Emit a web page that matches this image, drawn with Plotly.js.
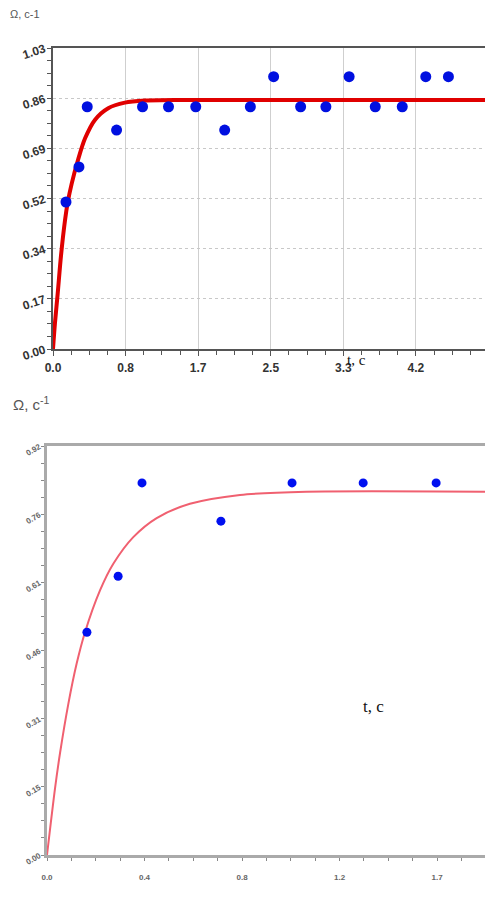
<!DOCTYPE html>
<html>
<head>
<meta charset="utf-8">
<script src="https://cdn.plot.ly/plotly-3.0.1.min.js"></script>
<style>html,body{margin:0;padding:0;background:#fff;}#chart{width:485px;height:907px;}</style>
</head>
<body>
<div id="chart"></div>
<script>
// Top chart: measured points and fitted curve
const topT = [0.149, 0.298, 0.393, 0.730, 1.028, 1.326, 1.639, 1.971, 2.266, 2.533, 2.843, 3.133, 3.40, 3.70, 4.01, 4.28, 4.54];
const topW = [0.503, 0.623, 0.829, 0.749, 0.829, 0.829, 0.829, 0.749, 0.829, 0.932, 0.829, 0.829, 0.932, 0.829, 0.829, 0.932, 0.932];
const topCurveT = [0, 0.023, 0.054, 0.092, 0.1375, 0.168, 0.214, 0.29, 0.367, 0.481, 0.634, 0.825, 1.055, 1.5, 5.0];
const topCurveW = [0, 0.090, 0.190, 0.320, 0.440, 0.500, 0.565, 0.650, 0.720, 0.784, 0.824, 0.843, 0.850, 0.852, 0.852];
const topXTicks = [0, 0.8333, 1.6667, 2.5, 3.3333, 4.1667, 5];
const topXLabels = ['0.0', '0.8', '1.7', '2.5', '3.3', '4.2', '5'];
const topYTicks = [0, 0.1717, 0.3433, 0.515, 0.6867, 0.8583, 1.03];
const topYLabels = ['0.00', '0.17', '0.34', '0.52', '0.69', '0.86', '1.03'];

// Bottom chart
const botT = [0.174, 0.31, 0.414, 0.758, 1.068, 1.378, 1.696];
const botW = [0.501, 0.627, 0.837, 0.751, 0.837, 0.837, 0.837];
const botCurveT = [0, 0.035, 0.057, 0.093, 0.129, 0.165, 0.231, 0.289, 0.376, 0.478, 0.623, 0.841, 1.13, 1.95];
const botCurveW = [0, 0.150, 0.230, 0.340, 0.430, 0.500, 0.595, 0.655, 0.715, 0.758, 0.790, 0.810, 0.817, 0.817];
const botXTicks = [0, 0.425, 0.85, 1.275, 1.7];
const botXLabels = ['0.0', '0.4', '0.8', '1.2', '1.7'];
const botYTicks = [0, 0.1533, 0.3067, 0.46, 0.6133, 0.7667, 0.92];
const botYLabels = ['0.00', '0.15', '0.31', '0.46', '0.61', '0.76', '0.92'];

const W = 485, H = 907;
const traces = [
  {x: topCurveT, y: topCurveW, type: 'scatter', mode: 'lines', line: {color: '#e00000', width: 4, shape: 'spline', smoothing: 0.8}, xaxis: 'x', yaxis: 'y', hoverinfo: 'skip'},
  {x: topT, y: topW, type: 'scatter', mode: 'markers', marker: {color: '#0010e0', size: 11}, xaxis: 'x', yaxis: 'y'},
  {x: botCurveT, y: botCurveW, type: 'scatter', mode: 'lines', line: {color: '#f06070', width: 2, shape: 'spline', smoothing: 0.8}, xaxis: 'x2', yaxis: 'y2', hoverinfo: 'skip'},
  {x: botT, y: botW, type: 'scatter', mode: 'markers', marker: {color: '#0010f0', size: 9}, xaxis: 'x2', yaxis: 'y2'}
];

const topTickFont = {family: 'Arial, Liberation Sans, sans-serif', size: 12, color: '#333', weight: 'bold'};
const botTickFont = {family: 'Arial, Liberation Sans, sans-serif', size: 8, color: '#666', weight: 'bold'};

const layout = {
  width: W, height: H,
  margin: {l: 0, r: 0, t: 0, b: 0},
  paper_bgcolor: '#fff', plot_bgcolor: '#fff',
  showlegend: false,
  xaxis: {
    domain: [53 / W, 1], anchor: 'y', range: [0, 4.96],
    tickmode: 'array', tickvals: topXTicks, ticktext: topXLabels,
    showgrid: true, gridcolor: '#cfcfcf', gridwidth: 1,
    showline: true, linecolor: '#555', linewidth: 2, mirror: true,
    ticks: 'outside', ticklen: 5, tickcolor: '#555', tickwidth: 1,
    minor: {dtick: 0.8333 / 4, tick0: 0, ticks: 'outside', ticklen: 4, tickcolor: '#555', showgrid: false},
    ticklabelstandoff: 2,
    tickfont: topTickFont, zeroline: false, fixedrange: true
  },
  yaxis: {
    domain: [(H - 349) / H, (H - 48) / H], anchor: 'x', range: [0, 1.03],
    tickmode: 'array', tickvals: topYTicks, ticktext: topYLabels,
    showgrid: true, gridcolor: '#c8c8c8', gridwidth: 1, griddash: 'dot',
    showline: true, linecolor: '#555', linewidth: 2,
    ticks: 'outside', ticklen: 4, tickcolor: '#555',
    minor: {dtick: 0.1717 / 4, tick0: 0, ticks: 'outside', ticklen: 4, tickcolor: '#555', showgrid: false},
    tickangle: -18, tickfont: topTickFont, zeroline: false, fixedrange: true
  },
  xaxis2: {
    domain: [47 / W, 1], anchor: 'y2', range: [0, 1.909],
    tickmode: 'array', tickvals: botXTicks, ticktext: botXLabels,
    showgrid: false,
    showline: true, linecolor: '#aaa', linewidth: 3, mirror: true,
    ticks: 'outside', ticklen: 3, tickcolor: '#888',
    minor: {dtick: 0.425 / 4, tick0: 0, ticks: 'outside', ticklen: 3, tickcolor: '#888', showgrid: false},
    ticklabelstandoff: 9,
    tickfont: botTickFont, zeroline: false, fixedrange: true
  },
  yaxis2: {
    domain: [(H - 855) / H, (H - 446) / H], anchor: 'x2', range: [0, 0.92],
    tickmode: 'array', tickvals: botYTicks, ticktext: botYLabels,
    showgrid: false,
    showline: true, linecolor: '#aaa', linewidth: 3,
    ticks: 'outside', ticklen: 3, tickcolor: '#888',
    minor: {dtick: 0.1533 / 4, tick0: 0, ticks: 'outside', ticklen: 3, tickcolor: '#888', showgrid: false},
    tickangle: -30, tickfont: botTickFont, zeroline: false, fixedrange: true
  },
  annotations: [
    {xref: 'paper', yref: 'paper', x: 8 / W, y: 1 - 14 / H, xanchor: 'left', yanchor: 'middle', showarrow: false,
     text: 'Ω, c-1', font: {family: 'Arial, Liberation Sans, sans-serif', size: 11, color: '#555'}},
    {xref: 'paper', yref: 'paper', x: 345 / W, y: 1 - 360 / H, xanchor: 'left', yanchor: 'middle', showarrow: false,
     text: 't, c', font: {family: 'Liberation Serif, Times New Roman, serif', size: 15, color: '#111'}},
    {xref: 'paper', yref: 'paper', x: 11 / W, y: 1 - 404 / H, xanchor: 'left', yanchor: 'middle', showarrow: false,
     text: 'Ω, c<sup>-1</sup>', font: {family: 'Arial, Liberation Sans, sans-serif', size: 15, color: '#555'}},
    {xref: 'paper', yref: 'paper', x: 361 / W, y: 1 - 706 / H, xanchor: 'left', yanchor: 'middle', showarrow: false,
     text: 't, c', font: {family: 'Liberation Serif, Times New Roman, serif', size: 17, color: '#111'}}
  ]
};

Plotly.newPlot('chart', traces, layout, {displayModeBar: false, staticPlot: true});
</script>
</body>
</html>
